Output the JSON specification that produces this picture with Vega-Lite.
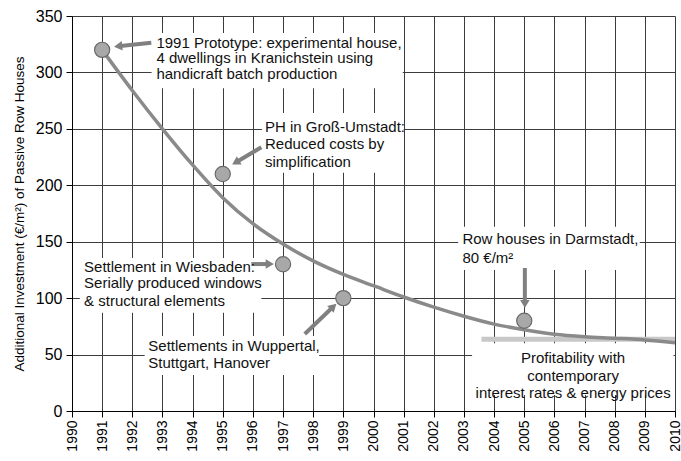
{
  "$schema": "https://vega.github.io/schema/vega-lite/v6.json",
  "width": 603,
  "height": 395,
  "autosize": "none",
  "padding": {"left": 72, "top": 16, "right": 6, "bottom": 50},
  "config": {
    "font": "Liberation Sans",
    "view": {"stroke": null},
    "axis": {"labelColor": "#000", "domainColor": "#000", "tickColor": "#000", "grid": true, "gridColor": "#3c3c3c", "gridOpacity": 1, "gridWidth": 1, "tickSize": 6, "labelOverlap": false, "labelBound": false}
  },
  "datasets": {
    "curve": [
      {"year": 1991, "v": 320}, {"year": 1992, "v": 284}, {"year": 1993, "v": 250},
      {"year": 1994, "v": 218}, {"year": 1995, "v": 189}, {"year": 1996, "v": 166},
      {"year": 1997, "v": 148}, {"year": 1998, "v": 133}, {"year": 1999, "v": 121},
      {"year": 2000, "v": 111}, {"year": 2001, "v": 101}, {"year": 2002, "v": 92},
      {"year": 2003, "v": 84}, {"year": 2004, "v": 77}, {"year": 2005, "v": 72},
      {"year": 2006, "v": 68}, {"year": 2007, "v": 65.8}, {"year": 2008, "v": 64.5},
      {"year": 2009, "v": 63}, {"year": 2010, "v": 60.5}
    ],
    "points": [
      {"year": 1991, "v": 320}, {"year": 1995, "v": 210}, {"year": 1997, "v": 130},
      {"year": 1999, "v": 100}, {"year": 2005, "v": 80}
    ],
    "boxes": [
      {"x1": 1992.64, "x2": 2000.97, "y1": 286, "y2": 335},
      {"x1": 1996.3, "x2": 2001.0, "y1": 211, "y2": 264},
      {"x1": 1990.26, "x2": 1996.28, "y1": 87, "y2": 135.6},
      {"x1": 1992.41, "x2": 1998.2, "y1": 32, "y2": 66.5},
      {"x1": 2002.81, "x2": 2008.83, "y1": 125, "y2": 163.3},
      {"x1": 2003.27, "x2": 2009.95, "y1": 14.2, "y2": 60}
    ],
    "profit": [{"x1": 2003.58, "x2": 2010, "v": 63.5}],
    "arrows": [
      {"id": "a1", "x1": 1992.63, "y1": 326.3, "x2": 1991.53, "y2": 323.2},
      {"id": "a2", "x1": 1996.28, "y1": 233.7, "x2": 1995.43, "y2": 220.2},
      {"id": "a3", "x1": 1995.95, "y1": 130.2, "x2": 1996.56, "y2": 130.2},
      {"id": "a4", "x1": 1997.72, "y1": 68.2, "x2": 1998.67, "y2": 92.6},
      {"id": "a5", "x1": 2005.02, "y1": 126.7, "x2": 2005.02, "y2": 94.8}
    ],
    "leftText": [
      {"x": 1992.8, "y": 326.3, "t": "1991 Prototype: experimental house,"},
      {"x": 1992.8, "y": 312.5, "t": "4 dwellings in Kranichstein using"},
      {"x": 1992.8, "y": 298.6, "t": "handicraft batch production"},
      {"x": 1996.4, "y": 251.9, "t": "PH in Groß-Umstadt:"},
      {"x": 1996.4, "y": 236.3, "t": "Reduced costs by"},
      {"x": 1996.4, "y": 220.4, "t": "simplification"},
      {"x": 1990.4, "y": 127.9, "t": "Settlement in Wiesbaden:"},
      {"x": 1990.4, "y": 113.2, "t": "Serially produced windows"},
      {"x": 1990.4, "y": 97.5, "t": "& structural elements"},
      {"x": 1992.53, "y": 57.9, "t": "Settlements in Wuppertal,"},
      {"x": 1992.53, "y": 42.3, "t": "Stuttgart, Hanover"},
      {"x": 2002.95, "y": 152.1, "t": "Row houses in Darmstadt,"},
      {"x": 2002.95, "y": 135.3, "t": "80 €/m²"}
    ],
    "centerText": [
      {"x": 2006.62, "y": 47.2, "t": "Profitability with"},
      {"x": 2006.62, "y": 31.3, "t": "contemporary"},
      {"x": 2006.62, "y": 15.7, "t": "interest rates & energy prices"}
    ]
  },
  "encoding": {
    "x": {"type": "quantitative", "scale": {"domain": [1990, 2010], "nice": false, "zero": false},
      "axis": {"tickCount": 20, "format": "d", "labelAngle": -90, "labelFontSize": 14, "labelPadding": 3, "title": null, "grid": true, "gridColor": "#3c3c3c"}},
    "y": {"type": "quantitative", "scale": {"domain": [0, 350], "nice": false},
      "axis": {"labelFontSize": 16, "labelPadding": 4, "grid": true, "gridColor": "#3c3c3c",
        "title": "Additional Investment (€/m²) of Passive Row Houses", "titleFontSize": 13.5, "titleFontWeight": "normal", "titleColor": "#000", "titlePadding": 9}}
  },
  "layer": [
    {
      "data": {"name": "boxes"},
      "mark": {"type": "rect", "fill": "#ffffff"},
      "encoding": {
        "x": {"field": "x1", "type": "quantitative"},
        "x2": {"field": "x2"},
        "y": {"field": "y1", "type": "quantitative"},
        "y2": {"field": "y2"}
      }
    },
    {
      "data": {"name": "profit"},
      "mark": {"type": "rule", "color": "#c8c8c8", "strokeWidth": 5},
      "encoding": {
        "x": {"field": "x1", "type": "quantitative"},
        "x2": {"field": "x2"},
        "y": {"field": "v", "type": "quantitative"}
      }
    },
    {
      "data": {"name": "curve"},
      "mark": {"type": "line", "color": "#8a8a8a", "strokeWidth": 3.5, "interpolate": "monotone"},
      "encoding": {
        "x": {"field": "year", "type": "quantitative"},
        "y": {"field": "v", "type": "quantitative"}
      }
    },
    {
      "data": {"name": "points"},
      "mark": {"type": "point", "filled": true, "fill": "#a8a8a8", "stroke": "#6a6a6a", "strokeWidth": 1.2, "size": 230, "opacity": 1},
      "encoding": {
        "x": {"field": "year", "type": "quantitative"},
        "y": {"field": "v", "type": "quantitative"}
      }
    },
    {
      "data": {"name": "arrows"},
      "mark": {"type": "rule", "color": "#808080", "strokeWidth": 4},
      "encoding": {
        "x": {"field": "x1", "type": "quantitative"},
        "y": {"field": "y1", "type": "quantitative"},
        "x2": {"field": "x2"},
        "y2": {"field": "y2"}
      }
    },
    {
      "data": {"name": "arrows"},
      "transform": [{"filter": "datum.id == 'a1'"}],
      "mark": {"type": "point", "shape": "triangle-right", "filled": true, "color": "#808080", "size": 90, "angle": 174, "opacity": 1},
      "encoding": {"x": {"field": "x2", "type": "quantitative"}, "y": {"field": "y2", "type": "quantitative"}}
    },
    {
      "data": {"name": "arrows"},
      "transform": [{"filter": "datum.id == 'a2'"}],
      "mark": {"type": "point", "shape": "triangle-right", "filled": true, "color": "#808080", "size": 90, "angle": 149.5, "opacity": 1},
      "encoding": {"x": {"field": "x2", "type": "quantitative"}, "y": {"field": "y2", "type": "quantitative"}}
    },
    {
      "data": {"name": "arrows"},
      "transform": [{"filter": "datum.id == 'a3'"}],
      "mark": {"type": "point", "shape": "triangle-right", "filled": true, "color": "#808080", "size": 90, "angle": 0, "opacity": 1},
      "encoding": {"x": {"field": "x2", "type": "quantitative"}, "y": {"field": "y2", "type": "quantitative"}}
    },
    {
      "data": {"name": "arrows"},
      "transform": [{"filter": "datum.id == 'a4'"}],
      "mark": {"type": "point", "shape": "triangle-right", "filled": true, "color": "#808080", "size": 90, "angle": 316, "opacity": 1},
      "encoding": {"x": {"field": "x2", "type": "quantitative"}, "y": {"field": "y2", "type": "quantitative"}}
    },
    {
      "data": {"name": "arrows"},
      "transform": [{"filter": "datum.id == 'a5'"}],
      "mark": {"type": "point", "shape": "triangle-right", "filled": true, "color": "#808080", "size": 90, "angle": 90, "opacity": 1},
      "encoding": {"x": {"field": "x2", "type": "quantitative"}, "y": {"field": "y2", "type": "quantitative"}}
    },
    {
      "data": {"name": "leftText"},
      "mark": {"type": "text", "align": "left", "baseline": "middle", "fontSize": 15, "color": "#111"},
      "encoding": {
        "x": {"field": "x", "type": "quantitative"},
        "y": {"field": "y", "type": "quantitative"},
        "text": {"field": "t"}
      }
    },
    {
      "data": {"name": "centerText"},
      "mark": {"type": "text", "align": "center", "baseline": "middle", "fontSize": 15, "color": "#111"},
      "encoding": {
        "x": {"field": "x", "type": "quantitative"},
        "y": {"field": "y", "type": "quantitative"},
        "text": {"field": "t"}
      }
    }
  ]
}
